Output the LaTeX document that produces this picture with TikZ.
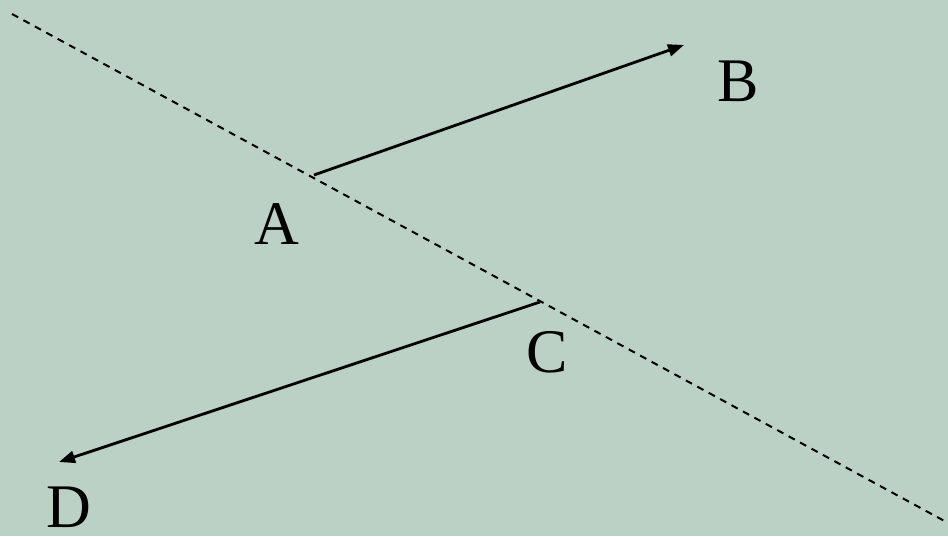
\documentclass[tikz,border=0pt]{standalone}
\usepackage{fontspec}
\setmainfont{Liberation Serif}
\usetikzlibrary{arrows.meta}
\definecolor{sagebg}{RGB}{187,209,198}
\tikzset{
  ray/.style={line width=2.8pt,-{Triangle[length=16pt,width=12pt]}},
  cutline/.style={line width=2pt,dash pattern=on 7pt off 6pt},
  ptlabel/.style={inner sep=0pt,font=\rmfamily\fontsize{62}{72}\selectfont}}

\begin{document}
\begin{tikzpicture}[x=1pt,y=-1pt]
  \useasboundingbox (0,0) rectangle (948,536);
  \fill[sagebg] (0,0) rectangle (948,536);
  \clip (0,0) rectangle (948,536);
  % the dashed line and the two points that sit on it
  \coordinate (cutS) at (12,14);
  \coordinate (cutE) at (950,524);
  \coordinate (pA) at (314,175);
  \coordinate (pC) at (540,302);
  \coordinate (pB) at (684,45);
  \coordinate (pD) at (59,462);
  \draw[cutline] (cutS) -- (cutE);
  \draw[ray] (pA) -- (pB);
  \draw[ray] (pC) -- (pD);
  % labels
  \node[ptlabel] (labA) at (277,224) {A};
  \node[ptlabel] (labB) at (738,81)  {B};
  \node[ptlabel] (labC) at (547,352) {C};
  \node[ptlabel] (labD) at (69,507)  {D};
\end{tikzpicture}
\end{document}
